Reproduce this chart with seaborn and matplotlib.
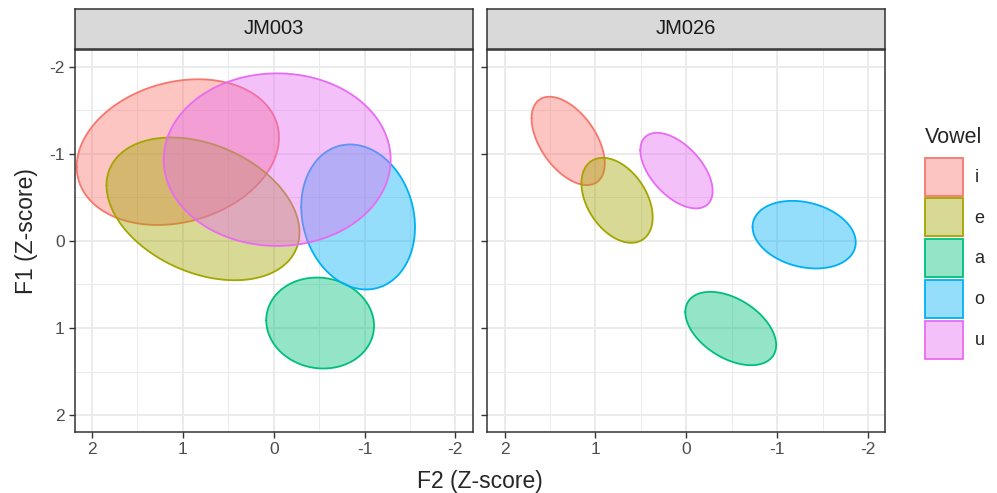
import numpy as np
import pandas as pd
import matplotlib
matplotlib.use("Agg")
import matplotlib.pyplot as plt
import seaborn as sns
from matplotlib.patches import Patch
from matplotlib.colors import to_rgba

# ellipse summaries per speaker / vowel (F2 horizontal, F1 vertical, z-scores)
speakers = ["JM003"] * 5 + ["JM026"] * 5
vowels = ["i", "e", "a", "o", "u"] * 2
f2_center = [1.055, 0.778, -0.511, -0.929, -0.038, 1.30, 0.762, -0.489, -1.297, 0.108]
f1_center = [-1.018, -0.367, 0.943, -0.274, -0.932, -1.147, -0.465, 1.006, -0.071, -0.806]
f2_radius = [1.113, 1.062, 0.593, 0.626, 1.249, 0.403, 0.392, 0.500, 0.568, 0.398]
f1_radius = [0.836, 0.819, 0.522, 0.832, 0.990, 0.507, 0.488, 0.421, 0.388, 0.434]
tilt = [0.20, -0.33, -0.06, -0.14, 0.0, -0.51, -0.40, -0.45, -0.23, -0.54]

vowel_order = ["i", "e", "a", "o", "u"]
colors = {"i": "#F8766D", "e": "#A3A500", "a": "#00BF7D", "o": "#00B0F6", "u": "#E76BF3"}
fill_alpha = 0.42

df = pd.DataFrame({"speaker": speakers, "vowel": vowels, "cx": f2_center, "cy": f1_center,
                   "rx": f2_radius, "ry": f1_radius, "rho": tilt})

sns.set_theme(style="white")
plt.rcParams["font.family"] = ["Liberation Sans", "DejaVu Sans"]


def draw_ellipse(data, color, label=None, **kws):
    ax = plt.gca()
    t = np.linspace(0, 2 * np.pi, 240)
    for _, r in data.iterrows():
        x = r.cx + r.rx * np.cos(t)
        y = r.cy + r.ry * (r.rho * np.cos(t) + np.sqrt(1 - r.rho ** 2) * np.sin(t))
        ax.fill(x, y, facecolor=color, alpha=fill_alpha, edgecolor="none", zorder=2)
        ax.plot(x, y, color=color, lw=1.3, zorder=2)


g = sns.FacetGrid(df, col="speaker", hue="vowel", hue_order=vowel_order, palette=colors,
                  height=4, aspect=1, despine=False)
g.map_dataframe(draw_ellipse)
g.set_titles("")

fig = g.figure
fig.set_size_inches(9.97, 4.93)
W, H = 997, 493
panel_top, panel_bot = 50, 431.7
lefts = [74.7, 487.3]
pw = 398.0

for i, (ax, left, name) in enumerate(zip(g.axes.flat, lefts, ["JM003", "JM026"])):
    ax.set_position([left / W, 1 - panel_bot / H, pw / W, (panel_bot - panel_top) / H])
    ax.set_xlim(2.19, -2.19)
    ax.set_ylim(2.19, -2.19)
    ax.set_xticks([2, 1, 0, -1, -2])
    ax.set_xticklabels(["2", "1", "0", "-1", "-2"])
    ax.set_yticks([-2, -1, 0, 1, 2])
    ax.set_yticklabels(["-2", "-1", "0", "1", "2"])
    ax.set_xticks([1.5, 0.5, -0.5, -1.5], minor=True)
    ax.set_yticks([-1.5, -0.5, 0.5, 1.5], minor=True)
    ax.set_axisbelow(True)
    ax.grid(which="major", color="#EBEBEB", lw=1.4)
    ax.grid(which="minor", color="#EBEBEB", lw=0.7)
    ax.tick_params(which="major", direction="out", length=4.3, width=1.0, color="#333333",
                   labelsize=12.5, labelcolor="#4D4D4D", pad=3, bottom=True, left=True,
                   labelleft=(i == 0), labelbottom=True)
    ax.tick_params(which="minor", length=0)
    ax.set_xlabel("")
    ax.set_ylabel("")
    for s in ax.spines.values():
        s.set_color("#333333")
        s.set_linewidth(1.1)
    sax = fig.add_axes([left / W, 1 - 49 / H, pw / W, 40 / H])
    sax.set_facecolor("#D9D9D9")
    sax.set_xticks([])
    sax.set_yticks([])
    for s in sax.spines.values():
        s.set_color("#333333")
        s.set_linewidth(1.1)
    sax.text(0.5, 0.5, name, ha="center", va="center", fontsize=14.5, color="#1A1A1A",
             transform=sax.transAxes)

fig.text(480 / W, 1 - 488 / H, "F2 (Z-score)", ha="center", va="baseline", fontsize=16.5)
fig.text(33 / W, 1 - 231 / H, "F1 (Z-score)", ha="center", va="baseline", rotation=90,
         fontsize=16.5, rotation_mode="anchor")

handles = [Patch(facecolor=to_rgba(colors[v], fill_alpha), edgecolor=colors[v], linewidth=1.3)
           for v in vowel_order]
leg = fig.legend(handles=handles, labels=vowel_order, title="Vowel", loc="upper left",
                 bbox_to_anchor=(925 / W, 1 - 127 / H), frameon=False, fontsize=13,
                 title_fontsize=15.5, handlelength=2.1, handleheight=2.86, labelspacing=0.15,
                 handletextpad=0.65, borderpad=0, borderaxespad=0, alignment="left")
leg._legend_box.sep = 7

fig.savefig("out.png", dpi=100)
